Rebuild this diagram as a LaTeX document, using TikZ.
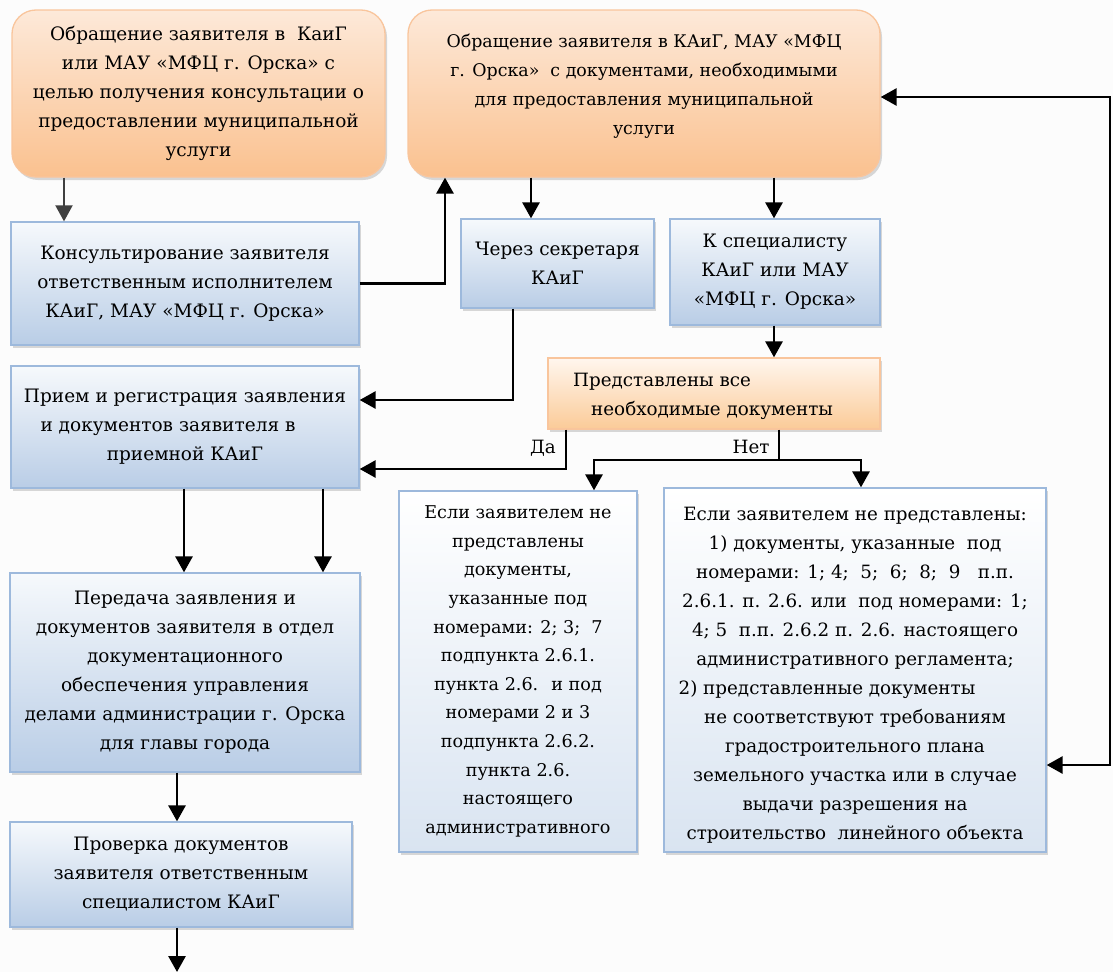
\documentclass[tikz,border=0pt]{standalone}
\usepackage{fontspec}
\setmainfont{DejaVu Serif}
\usetikzlibrary{arrows.meta,shadows}
\definecolor{orTop}{HTML}{FDE9D9}
\definecolor{orBot}{HTML}{FAC18F}
\definecolor{orLine}{HTML}{F9C59C}
\definecolor{gTop}{HTML}{FFF6EE}
\definecolor{gBot}{HTML}{FBCB98}
\definecolor{blTop}{HTML}{F6F9FC}
\definecolor{blBot}{HTML}{B9CDE6}
\definecolor{blLine}{HTML}{9DB9DC}
\definecolor{ltBot}{HTML}{D9E4F1}
\definecolor{bgc}{HTML}{FCFCFC}
\tikzset{
  x=1pt, y=-1pt,
  txt/.style={inner sep=0pt, align=center, font=\fontsize{18.5}{29}\selectfont},
  sm/.style={font=\fontsize{17.4}{29}\selectfont},
  md/.style={font=\fontsize{18.3}{29}\selectfont},
  hs/.style={font=\fontsize{17.6}{28.6}\selectfont},
  shad/.style={drop shadow={shadow xshift=2pt, shadow yshift=-3pt, fill=black!30}},
  bbox/.style={txt, draw=blLine, line width=1.3pt, top color=blTop, bottom color=blBot, shad},
  lbox/.style={txt, draw=blLine, line width=1.3pt, top color=white, bottom color=ltBot, shad},
  obox/.style={txt, draw=orLine, line width=1.3pt, rounded corners=24pt, top color=orTop, bottom color=orBot, shad},
  gbox/.style={txt, draw=orLine, line width=1.3pt, top color=gTop, bottom color=gBot, shad},
  arr/.style={line width=2.8pt, -{Triangle[length=16pt,width=17pt]}},
  arrthin/.style={line width=2pt, draw=black!75, -{Triangle[length=16pt,width=17pt]}},
  ln/.style={line width=2.8pt},
  arrboth/.style={line width=2.8pt, {Triangle[length=16pt,width=17pt]}-{Triangle[length=16pt,width=17pt]}},
}
\begin{document}
\begin{tikzpicture}
\fill[bgc] (0,0) rectangle (1113,972);
\useasboundingbox (0,0) rectangle (1113,972);

% boxes
\node[obox, minimum width=373pt, minimum height=167pt] (A) at (198.5,93.5)
 {Обращение заявителя в~ КаиГ\\или МАУ «МФЦ г. Орска» с\\целью получения консультации о\\предоставлении муниципальной\\услуги};
\node[obox, minimum width=472pt, minimum height=167pt] (B) at (644,93.5) {};
\node[txt, sm] (Bt) at (644,86)
 {Обращение заявителя в КАиГ, МАУ «МФЦ\\г. Орска»~ с документами, необходимыми\\для предоставления муниципальной\\услуги};
\node[bbox, minimum width=348pt, minimum height=123pt] (C) at (185,283.5)
 {Консультирование заявителя\\ответственным исполнителем\\КАиГ, МАУ «МФЦ г. Орска»};
\node[bbox, minimum width=348pt, minimum height=122pt] (D) at (185,427)
 {Прием и регистрация заявления\\и документов заявителя в\rule{34pt}{0pt}\\приемной КАиГ};
\node[bbox, minimum width=193pt, minimum height=89pt] (E) at (557.5,263.5)
 {Через секретаря\\КАиГ};
\node[bbox, minimum width=210pt, minimum height=106pt] (F) at (775,272)
 {К специалисту\\КАиГ или МАУ\\«МФЦ г. Орска»};
\node[gbox, minimum width=332pt, minimum height=71pt] (G) at (714,393.5) {};
\node[txt, md, align=left, anchor=west] (Gt) at (573,396)
 {Представлены все\\\hspace*{18pt}необходимые документы};
\node[lbox, hs, minimum width=238pt, minimum height=361pt] (H) at (518,671.5)
 {Если заявителем не\\представлены\\документы,\\указанные под\\номерами: 2; 3;~ 7\\подпункта 2.6.1.\\пункта 2.6.~ и под\\номерами 2 и 3\\подпункта 2.6.2.\\пункта 2.6.\\настоящего\\административного};
\node[lbox, minimum width=382pt, minimum height=364pt] (I) at (855,670) {};
\node[txt, md] (It) at (855,675)
 {Если заявителем не представлены:\\1) документы, указанные~ под\\номерами: 1; 4;~ 5;~ 6;~ 8;~ 9~~ п.п.\\2.6.1. п. 2.6. или~ под номерами: 1;\\4; 5~ п.п. 2.6.2 п. 2.6. настоящего\\административного регламента;\\2) представленные документы\rule{56pt}{0pt}\\не соответствуют требованиям\\градостроительного плана\\земельного участка или в случае\\выдачи разрешения на\\строительство~ линейного объекта};
\node[bbox, minimum width=350pt, minimum height=199pt] (J) at (185,672.5)
 {Передача заявления и\\документов заявителя в отдел\\документационного\\обеспечения управления\\делами администрации г. Орска\\для главы города};
\node[bbox, minimum width=342pt, minimum height=105pt] (K) at (181,874.5)
 {Проверка документов\\заявителя ответственным\\специалистом КАиГ};

% labels
\node[txt, md] (da) at (543,448) {Да};
\node[txt, md] (net) at (751,447) {Нет};

% routing coordinates
\coordinate (k1) at (64,0);
\coordinate (k2) at (445,0);
\coordinate (k3) at (531,0);
\coordinate (k4) at (774,0);
\coordinate (k5) at (513,400);
\coordinate (k6) at (566,469);
\coordinate (k7) at (779,460);
\coordinate (k8) at (594,460);
\coordinate (k9) at (861,460);
\coordinate (k10) at (1110,765);
\coordinate (k11) at (1110,97);
\coordinate (k12) at (184,0);
\coordinate (k13) at (323,0);
\coordinate (k14) at (177,0);
\coordinate (kend) at (177,972);

% connectors
\draw[arrthin] (A.south -| k1) -- (C.north -| k1);
\draw[arr] (C.east) -- (k2 |- C.east) -- (B.south -| k2);
\draw[arr] (B.south -| k3) -- (E.north -| k3);
\draw[arr] (B.south -| k4) -- (F.north -| k4);
\draw[arr] (E.south -| k5) -- (k5) -- (D.east |- k5);
\draw[arr] (F.south -| k4) -- (G.north -| k4);
\draw[arr] (G.south -| k6) -- (k6) -- (D.east |- k6);
\draw[ln] (G.south -| k7) -- (k7);
\draw[arr] (k7) -- (k8) -- (H.north -| k8);
\draw[arr] (k7) -- (k9) -- (I.north -| k9);
\draw[arrboth] (B.east |- k11) -- (k11) -- (k10) -- (I.east |- k10);
\draw[arr] (D.south -| k12) -- (J.north -| k12);
\draw[arr] (D.south -| k13) -- (J.north -| k13);
\draw[arr] (J.south -| k14) -- (K.north -| k14);
\draw[arr] (K.south -| k14) -- (kend);
\end{tikzpicture}
\end{document}
